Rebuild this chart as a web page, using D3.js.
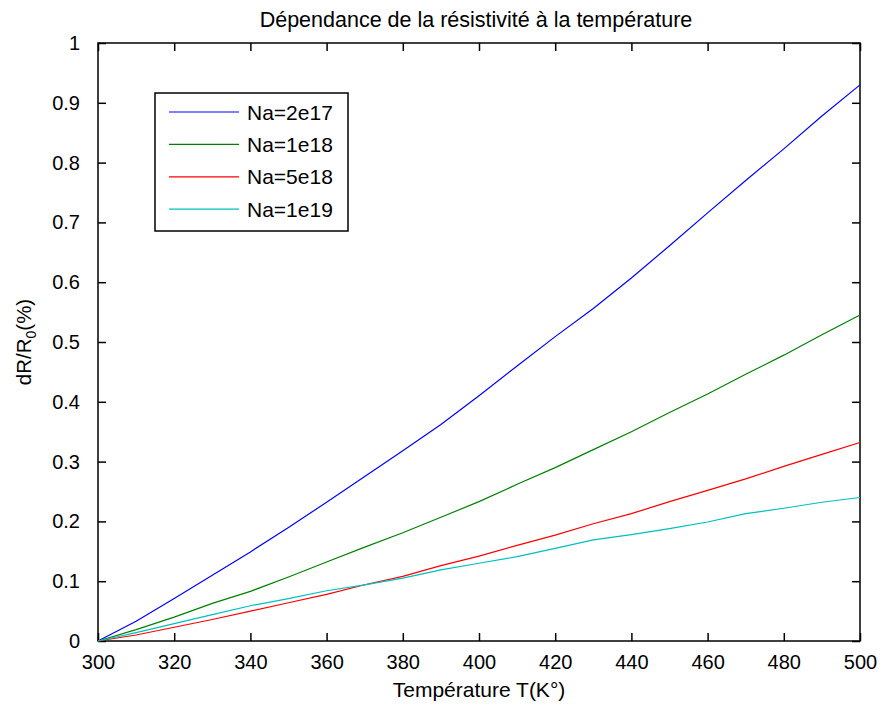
<!DOCTYPE html>
<html>
<head>
<meta charset="utf-8">
<script src="https://cdn.jsdelivr.net/npm/d3@7"></script>
<style>
  body { margin: 0; background: #fff; }
  svg text { font-family: "Liberation Sans", Arial, sans-serif; fill: #000; }
</style>
</head>
<body>
<svg id="chart" width="885" height="710"></svg>
<script>
// temperatures (K)
const temps = [300, 310, 320, 330, 340, 350, 360, 370, 380, 390, 400,
               410, 420, 430, 440, 450, 460, 470, 480, 490, 500];

// dR/R0 for each doping level
const na2e17 = [0, 0.033, 0.071, 0.11, 0.149, 0.19, 0.232, 0.275, 0.318, 0.362, 0.41,
                0.46, 0.509, 0.556, 0.607, 0.661, 0.716, 0.77, 0.823, 0.878, 0.93];
const na1e18 = [0, 0.019, 0.04, 0.063, 0.083, 0.107, 0.132, 0.157, 0.181, 0.207, 0.233,
                0.262, 0.29, 0.32, 0.35, 0.382, 0.413, 0.446, 0.478, 0.512, 0.545];
const na5e18 = [0, 0.01, 0.023, 0.036, 0.05, 0.064, 0.078, 0.094, 0.108, 0.126, 0.142,
                0.16, 0.177, 0.196, 0.213, 0.233, 0.252, 0.271, 0.292, 0.312, 0.332];
const na1e19 = [0, 0.014, 0.029, 0.044, 0.059, 0.071, 0.084, 0.094, 0.105, 0.119, 0.13,
                0.141, 0.155, 0.169, 0.178, 0.188, 0.199, 0.213, 0.222, 0.232, 0.24];

const seriesNames = ["Na=2e17", "Na=1e18", "Na=5e18", "Na=1e19"];
const seriesColors = ["#0000ff", "#008000", "#ff0000", "#00bfbf"];
const allSeries = [na2e17, na1e18, na5e18, na1e19];

const xTicks = d3.range(300, 501, 20);
const yTicks = d3.range(0, 1.01, 0.1);

const svg = d3.select("#chart");
const margin = {left: 98, right: 25, top: 43, bottom: 69};
const width = 885, height = 710;

const x = d3.scaleLinear().domain([300, 500]).range([margin.left, width - margin.right]);
const y = d3.scaleLinear().domain([0, 1]).range([height - margin.bottom, margin.top]);

const fmtY = d => (Math.round(d * 10) / 10).toString();

// axes with inward ticks
const tick = 8;
svg.append("g").attr("transform", `translate(0,${y(0)})`)
  .call(d3.axisBottom(x).tickValues(xTicks).tickSizeInner(-tick).tickSizeOuter(0).tickPadding(14))
  .call(g => g.select(".domain").remove());
svg.append("g").attr("transform", `translate(0,${y(1)})`)
  .call(d3.axisTop(x).tickValues(xTicks).tickSizeInner(-tick).tickSizeOuter(0).tickFormat(""))
  .call(g => g.select(".domain").remove());
svg.append("g").attr("transform", `translate(${x(300)},0)`)
  .call(d3.axisLeft(y).tickValues(yTicks).tickSizeInner(-tick).tickSizeOuter(0).tickPadding(18).tickFormat(fmtY))
  .call(g => g.select(".domain").remove());
svg.append("g").attr("transform", `translate(${x(500)},0)`)
  .call(d3.axisRight(y).tickValues(yTicks).tickSizeInner(-tick).tickSizeOuter(0).tickFormat(""))
  .call(g => g.select(".domain").remove());

svg.selectAll(".tick line").attr("stroke", "#000").attr("stroke-width", 1.5);
svg.selectAll(".tick text").attr("font-size", 20).attr("font-family", "Liberation Sans, Arial, sans-serif");

// box
svg.append("rect")
  .attr("x", x(300)).attr("y", y(1))
  .attr("width", x(500) - x(300)).attr("height", y(0) - y(1))
  .attr("fill", "none").attr("stroke", "#000").attr("stroke-width", 1.5);

// lines
const line = d3.line().x((d, i) => x(temps[i])).y(d => y(d));
allSeries.forEach((s, k) => {
  svg.append("path").datum(s)
    .attr("d", line)
    .attr("fill", "none")
    .attr("stroke", seriesColors[k])
    .attr("stroke-width", 1.2);
});

// title and labels
svg.append("text").attr("x", 476).attr("y", 27)
  .attr("text-anchor", "middle").attr("font-size", 21.5)
  .text("Dépendance de la résistivité à la température");
svg.append("text").attr("x", 479).attr("y", 697)
  .attr("text-anchor", "middle").attr("font-size", 21)
  .text("Température T(K°)");
const yl = svg.append("text")
  .attr("transform", `translate(31,${(y(0) + y(1)) / 2}) rotate(-90)`)
  .attr("text-anchor", "middle").attr("font-size", 20.5);
yl.append("tspan").text("dR/R");
yl.append("tspan").attr("font-size", 14).attr("dy", 5).text("0");
yl.append("tspan").attr("dy", -5).text("(%)");

// legend
const lg = svg.append("g").attr("transform", "translate(155,93)");
lg.append("rect").attr("width", 193).attr("height", 138)
  .attr("fill", "#fff").attr("stroke", "#000").attr("stroke-width", 1.5);
seriesNames.forEach((n, k) => {
  const ly = 19 + k * 32.4;
  lg.append("line").attr("x1", 14).attr("x2", 84).attr("y1", ly).attr("y2", ly)
    .attr("stroke", seriesColors[k]).attr("stroke-width", 1.2);
  lg.append("text").attr("x", 92).attr("y", ly + 7.5).attr("font-size", 21).text(n);
});
</script>
</body>
</html>
